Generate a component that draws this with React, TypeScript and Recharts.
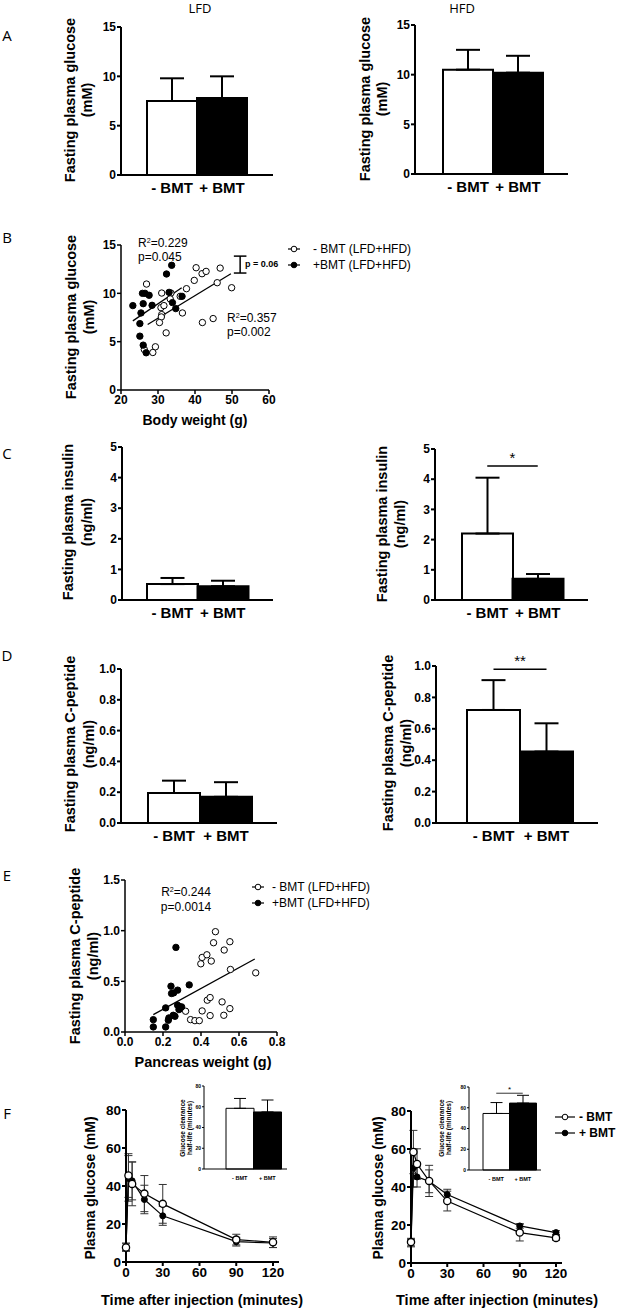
import React from 'react';
import {
  Bar,
  BarChart,
  Cell,
  ErrorBar,
  Line,
  LineChart,
  ReferenceLine,
  Scatter,
  ScatterChart,
  XAxis,
  YAxis,
} from 'recharts';

const sans = '"Liberation Sans", Arial, sans-serif';
const light = '"Open Sans", "Noto Sans", sans-serif';

const groups = ['- BMT', '+ BMT'];

// A: fasting plasma glucose (mM), mean and SD
const glucoseLfd = [7.5, 7.8];
const glucoseLfdSd = [2.3, 2.2];
const glucoseHfd = [10.5, 10.2];
const glucoseHfdSd = [2.0, 1.7];

// C: fasting plasma insulin (ng/ml)
const insulinLfd = [0.52, 0.45];
const insulinLfdSd = [0.2, 0.18];
const insulinHfd = [2.2, 0.7];
const insulinHfdSd = [1.85, 0.16];

// D: fasting plasma C-peptide (ng/ml)
const cpepLfd = [0.195, 0.17];
const cpepLfdSd = [0.08, 0.095];
const cpepHfd = [0.72, 0.455];
const cpepHfdSd = [0.19, 0.18];

// B: body weight (g) vs glucose (mM)
const bwNoBmt: [number, number][] = [
  [26.9, 10.96], [26.3, 4.19], [29.3, 4.47], [28.6, 3.88], [30.8, 8.52], [31.6, 8.73],
  [31.0, 7.8], [30.9, 7.56], [30.4, 6.98], [32.2, 5.91], [31.0, 10.03], [33.5, 10.03],
  [33.3, 9.42], [36.0, 9.69], [37.7, 10.48], [36.6, 7.97], [39.8, 11.34], [40.3, 12.65],
  [41.9, 12.03], [43.0, 12.27], [46.8, 12.61], [46.0, 11.1], [49.9, 10.58], [42.0, 6.98],
  [44.9, 7.39],
];
const bwBmt: [number, number][] = [
  [23.2, 8.73], [25.4, 7.97], [25.8, 10.0], [26.5, 10.0], [26.0, 8.93], [27.6, 9.8],
  [28.4, 8.76], [25.1, 6.87], [25.1, 5.57], [26.0, 4.64], [26.8, 3.85], [32.3, 12.0],
  [33.7, 12.9], [33.0, 10.1], [33.9, 9.04], [36.5, 9.69], [34.8, 8.42],
];
const bwFitNoBmt: [number, number][] = [[27.2, 6.77], [49.7, 12.03]];
const bwFitBmt: [number, number][] = [[23.2, 7.15], [36.4, 10.58]];
const bwBracketX = 52.2;
const bwBracketY = [12.1, 13.85];

// E: pancreas weight (g) vs C-peptide (ng/ml)
const pwNoBmt: [number, number][] = [
  [0.319, 0.205], [0.345, 0.122], [0.368, 0.112], [0.391, 0.112], [0.399, 0.673],
  [0.406, 0.736], [0.431, 0.762], [0.454, 0.7], [0.466, 0.881], [0.476, 0.99],
  [0.406, 0.208], [0.433, 0.314], [0.448, 0.34], [0.448, 0.162], [0.511, 0.297],
  [0.52, 0.165], [0.522, 0.809], [0.552, 0.231], [0.552, 0.891], [0.555, 0.617],
  [0.688, 0.584],
];
const pwBmt: [number, number][] = [
  [0.149, 0.122], [0.149, 0.05], [0.214, 0.05], [0.214, 0.238], [0.228, 0.116],
  [0.231, 0.139], [0.242, 0.452], [0.245, 0.38], [0.256, 0.386], [0.263, 0.155],
  [0.254, 0.165], [0.268, 0.835], [0.277, 0.413], [0.277, 0.264], [0.289, 0.248],
  [0.298, 0.248], [0.284, 0.221], [0.338, 0.465],
];
const pwFit: [number, number][] = [[0.149, 0.172], [0.683, 0.72]];

// F: glucose tolerance curves (mM)
const times = [0, 2, 5, 15, 30, 90, 120];
const gttLfdNoBmt = [7.6, 45.5, 41.1, 36.0, 30.6, 11.8, 10.4];
const gttLfdNoBmtSd = [2, 11.5, 11.5, 9.5, 10.2, 2.8, 2.8];
const gttLfdBmt = [8.0, 44.0, 42.7, 32.9, 24.3, 10.7, 10.0];
const gttLfdBmtSd = [2, 12, 10, 7.5, 5, 2.3, 2.4];
const gttHfdNoBmt = [11.0, 58.4, 52.1, 43.2, 32.6, 16.0, 13.2];
const gttHfdNoBmtSd = [2, 11.4, 8, 8.2, 5.2, 4.4, 1.2];
const gttHfdBmt = [10.5, 50.0, 45.3, 43.0, 36.0, 19.5, 16.0];
const gttHfdBmtSd = [2, 10, 5.3, 6, 2.8, 1.2, 1];

// F insets: glucose clearance half-life (minutes)
const halfLifeLfd = [58.5, 55];
const halfLifeLfdSd = [9.5, 11.5];
const halfLifeHfd = [54.5, 64.5];
const halfLifeHfdSd = [10.5, 7.5];

type Rect = { x0: number; x1: number; top: number; bottom: number };

const toPts = (arr: [number, number][]) => arr.map(([x, y]) => ({ x, y }));

function BarPanel(props: {
  rect: Rect;
  values: number[];
  sds: number[];
  max: number;
  ticks: number[];
  padL: number;
  padR: number;
  small?: boolean;
  sig?: { y: number; label: string };
  fmt?: (v: number) => string;
}) {
  const { rect, values, sds, max, ticks, padL, padR, small, sig, fmt } = props;
  const yW = small ? 14 : 34;
  const xH = small ? 12 : 28;
  const mt = small ? 10 : 24;
  const mr = 4;
  const left = rect.x0 - yW;
  const top = rect.top - mt;
  const width = rect.x1 - left + mr;
  const height = rect.bottom - top + xH;
  const sw = small ? 1 : 2;
  const data = groups.map((g, i) => ({ group: g, value: values[i], err: [0, sds[i]] }));
  return (
    <div style={{ position: 'absolute', left, top }}>
      <BarChart width={width} height={height} data={data} margin={{ top: mt, right: mr, left: 0, bottom: 0 }} barCategoryGap={0} barGap={0}>
        <XAxis
          dataKey="group"
          interval={0}
          padding={{ left: padL, right: padR }}
          height={xH}
          axisLine={{ stroke: '#000', strokeWidth: sw }}
          tickLine={false}
          tickMargin={small ? 1 : 1}
          tick={{ fill: '#000', fontSize: small ? 5.5 : 15, fontWeight: 700, fontFamily: sans }}
        />
        <YAxis
          type="number"
          domain={[0, max]}
          ticks={ticks}
          interval={0}
          width={yW}
          axisLine={{ stroke: '#000', strokeWidth: sw }}
          tickLine={{ stroke: '#000', strokeWidth: sw }}
          tickSize={small ? 2 : 4}
          tickMargin={1}
          tickFormatter={fmt}
          tick={{ fill: '#000', fontSize: small ? 5 : 12, fontWeight: 700, fontFamily: sans }}
        />
        {sig && (
          <ReferenceLine
            segment={[{ x: groups[0], y: sig.y }, { x: groups[1], y: sig.y }]}
            stroke="#000"
            strokeWidth={small ? 0.8 : 1.5}
            label={{ value: sig.label, position: 'top', fill: '#000', fontSize: small ? 8 : 15, fontFamily: sans, offset: small ? 1 : 3 }}
          />
        )}
        <Bar dataKey="value" isAnimationActive={false} stroke="#000" strokeWidth={sw}>
          {data.map((d, i) => (
            <Cell key={d.group} fill={i === 0 ? '#fff' : '#000'} />
          ))}
          <ErrorBar dataKey="err" direction="y" width={small ? 6 : 12} stroke="#000" strokeWidth={sw} />
        </Bar>
      </BarChart>
    </div>
  );
}

const openDot = (p: any) => <circle cx={p.cx} cy={p.cy} r={3.2} fill="#fff" stroke="#000" strokeWidth={1} />;
const filledDot = (p: any) => <circle cx={p.cx} cy={p.cy} r={3.2} fill="#000" stroke="#000" strokeWidth={1} />;
const noDot = () => <g />;

function ScatterPanel(props: {
  rect: Rect;
  xDomain: [number, number];
  xTicks: number[];
  yDomain: [number, number];
  yTicks: number[];
  open: [number, number][];
  filled: [number, number][];
  fits: [number, number][][];
  fmt?: (v: number) => string;
  children?: React.ReactNode;
}) {
  const { rect, xDomain, xTicks, yDomain, yTicks, open, filled, fits, fmt } = props;
  const yW = 34;
  const xH = 22;
  const mt = 10;
  const mr = 14;
  const left = rect.x0 - yW;
  const top = rect.top - mt;
  const width = rect.x1 - left + mr;
  const height = rect.bottom - top + xH;
  const tick = { fill: '#000', fontSize: 12, fontWeight: 700, fontFamily: sans };
  return (
    <div style={{ position: 'absolute', left, top }}>
      <ScatterChart width={width} height={height} margin={{ top: mt, right: mr, left: 0, bottom: 0 }}>
        <XAxis type="number" dataKey="x" domain={xDomain} ticks={xTicks} interval={0} height={xH}
          axisLine={{ stroke: '#000', strokeWidth: 1.5 }} tickLine={{ stroke: '#000', strokeWidth: 1.5 }}
          tickSize={4} tickMargin={1} tickFormatter={fmt} tick={tick} />
        <YAxis type="number" dataKey="y" domain={yDomain} ticks={yTicks} interval={0} width={yW}
          axisLine={{ stroke: '#000', strokeWidth: 1.5 }} tickLine={{ stroke: '#000', strokeWidth: 1.5 }}
          tickSize={4} tickMargin={1} tickFormatter={fmt} tick={tick} />
        {fits.map((f, i) => (
          <Scatter key={i} data={toPts(f)} line={{ stroke: '#000', strokeWidth: 1.3 }} shape={noDot} isAnimationActive={false} />
        ))}
        <Scatter data={toPts(open)} shape={openDot} isAnimationActive={false} />
        <Scatter data={toPts(filled)} shape={filledDot} isAnimationActive={false} />
        {props.children}
      </ScatterChart>
    </div>
  );
}

function CurvePanel(props: { rect: Rect; minus: number[]; minusSd: number[]; plus: number[]; plusSd: number[] }) {
  const { rect, minus, minusSd, plus, plusSd } = props;
  const yW = 36;
  const xH = 24;
  const mt = 10;
  const mr = 12;
  const left = rect.x0 - yW;
  const top = rect.top - mt;
  const width = rect.x1 - left + mr;
  const height = rect.bottom - top + xH;
  const data = times.map((t, i) => ({ t, a: minus[i], aErr: minusSd[i], b: plus[i], bErr: plusSd[i] }));
  const tick = { fill: '#000', fontSize: 13.5, fontWeight: 700, fontFamily: sans };
  return (
    <div style={{ position: 'absolute', left, top }}>
      <LineChart width={width} height={height} data={data} margin={{ top: mt, right: mr, left: 0, bottom: 0 }}>
        <XAxis type="number" dataKey="t" domain={[0, 120]} ticks={[0, 30, 60, 90, 120]} interval={0}
          padding={{ left: 0, right: 6 }} height={xH}
          axisLine={{ stroke: '#000', strokeWidth: 2 }} tickLine={{ stroke: '#000', strokeWidth: 2 }}
          tickSize={4} tickMargin={1} tick={tick} />
        <YAxis type="number" domain={[0, 80]} ticks={[0, 20, 40, 60, 80]} interval={0} width={yW}
          axisLine={{ stroke: '#000', strokeWidth: 2 }} tickLine={{ stroke: '#000', strokeWidth: 2 }}
          tickSize={4} tickMargin={1} tick={tick} />
        <Line dataKey="b" stroke="#000" strokeWidth={1.2} isAnimationActive={false}
          dot={{ r: 3, fill: '#000', stroke: '#000', strokeWidth: 1 }}>
          <ErrorBar dataKey="bErr" direction="y" width={4} stroke="#333" strokeWidth={1} />
        </Line>
        <Line dataKey="a" stroke="#000" strokeWidth={1.2} isAnimationActive={false}
          dot={{ r: 3.6, fill: '#fff', stroke: '#000', strokeWidth: 1.3 }}>
          <ErrorBar dataKey="aErr" direction="y" width={4} stroke="#333" strokeWidth={1} />
        </Line>
      </LineChart>
    </div>
  );
}

function Txt(props: { x: number; y: number; size?: number; bold?: boolean; family?: string; left?: boolean; children: React.ReactNode }) {
  const { x, y, size = 13, bold, family = sans, left } = props;
  return (
    <div style={{
      position: 'absolute', left: x, top: y,
      transform: left ? 'translate(0,-50%)' : 'translate(-50%,-50%)',
      fontSize: size, fontWeight: bold ? 700 : 400, fontFamily: family,
      whiteSpace: 'nowrap', lineHeight: 1, color: '#000',
    }}>
      {props.children}
    </div>
  );
}

function VTxt(props: { x: number; y: number; size?: number; bold?: boolean; children: React.ReactNode }) {
  const { x, y, size = 14.5, bold = true } = props;
  return (
    <div style={{
      position: 'absolute', left: x, top: y,
      transform: 'translate(-50%,-50%) rotate(-90deg)',
      fontSize: size, fontWeight: bold ? 700 : 400, fontFamily: sans,
      whiteSpace: 'nowrap', lineHeight: 1, color: '#000',
    }}>
      {props.children}
    </div>
  );
}

function Sym(props: { x: number; y: number; w: number; filled?: boolean }) {
  const { x, y, w, filled } = props;
  return (
    <svg style={{ position: 'absolute', left: x, top: y - 5 }} width={w} height={10}>
      <line x1={0} y1={5} x2={w} y2={5} stroke="#000" strokeWidth={1.2} />
      <circle cx={w / 2} cy={5} r={2.8} fill={filled ? '#000' : '#fff'} stroke="#000" strokeWidth={1} />
    </svg>
  );
}

const R2 = (props: { v: string }) => (
  <span>R<sup style={{ fontSize: '0.6em', verticalAlign: '0.55em' }}>2</sup>={props.v}</span>
);

export default function App() {
  const f1 = (v: number) => v.toFixed(1);
  return (
    <div style={{ position: 'absolute', left: 0, top: 0, width: 619, height: 1310, background: '#fff', overflow: 'hidden' }}>
      {/* titles and panel letters */}
      <Txt x={200} y={8} size={13} family={light}>LFD</Txt>
      <Txt x={462} y={8} size={13} family={light}>HFD</Txt>
      <Txt x={7} y={35} size={15} family={light}>A</Txt>
      <Txt x={7} y={237} size={15} family={light}>B</Txt>
      <Txt x={7} y={453} size={15} family={light}>C</Txt>
      <Txt x={7} y={655} size={15} family={light}>D</Txt>
      <Txt x={7} y={875} size={15} family={light}>E</Txt>
      <Txt x={7} y={1113} size={15} family={light}>F</Txt>

      {/* A */}
      <BarPanel rect={{ x0: 121, x1: 273, top: 27, bottom: 175 }} values={glucoseLfd} sds={glucoseLfdSd} max={15} ticks={[0, 5, 10, 15]} padL={26} padR={26} />
      <VTxt x={70} y={100}>Fasting plasma glucose</VTxt>
      <VTxt x={87} y={100}>(mM)</VTxt>
      <BarPanel rect={{ x0: 415, x1: 568, top: 25, bottom: 174 }} values={glucoseHfd} sds={glucoseHfdSd} max={15} ticks={[0, 5, 10, 15]} padL={28} padR={25} />
      <VTxt x={365} y={99}>Fasting plasma glucose</VTxt>
      <VTxt x={382} y={99}>(mM)</VTxt>

      {/* B */}
      <ScatterPanel rect={{ x0: 121, x1: 269, top: 245, bottom: 390 }} xDomain={[20, 60]} xTicks={[20, 30, 40, 50, 60]}
        yDomain={[0, 15]} yTicks={[0, 5, 10, 15]} open={bwNoBmt} filled={bwBmt} fits={[bwFitNoBmt, bwFitBmt]}>
        <ReferenceLine segment={[{ x: bwBracketX, y: bwBracketY[0] }, { x: bwBracketX, y: bwBracketY[1] }]} stroke="#000" strokeWidth={1.5} />
        <ReferenceLine segment={[{ x: bwBracketX - 1.7, y: bwBracketY[0] }, { x: bwBracketX + 1.7, y: bwBracketY[0] }]} stroke="#000" strokeWidth={1.5} />
        <ReferenceLine segment={[{ x: bwBracketX - 1.7, y: bwBracketY[1] }, { x: bwBracketX + 1.7, y: bwBracketY[1] }]} stroke="#000" strokeWidth={1.5} />
      </ScatterPanel>
      <VTxt x={71} y={317}>Fasting plasma glucose</VTxt>
      <VTxt x={89} y={317}>(mM)</VTxt>
      <Txt x={195} y={420} bold size={14}>Body weight (g)</Txt>
      <Txt x={138} y={243} size={12} left><R2 v="0.229" /></Txt>
      <Txt x={138} y={257} size={12} left>p=0.045</Txt>
      <Txt x={227} y={318} size={12} left><R2 v="0.357" /></Txt>
      <Txt x={227} y={332} size={12} left>p=0.002</Txt>
      <Txt x={245} y={264} size={9} bold left>p = 0.06</Txt>
      <Sym x={288} y={249} w={12} />
      <Txt x={313} y={249} size={12} left>- BMT (LFD+HFD)</Txt>
      <Sym x={288} y={265} w={12} filled />
      <Txt x={313} y={265} size={12} left>+BMT (LFD+HFD)</Txt>

      {/* C */}
      <BarPanel rect={{ x0: 122, x1: 273, top: 447, bottom: 600 }} values={insulinLfd} sds={insulinLfdSd} max={5} ticks={[0, 1, 2, 3, 4, 5]} padL={25} padR={25} />
      <VTxt x={68} y={522}>Fasting plasma insulin</VTxt>
      <VTxt x={87} y={522}>(ng/ml)</VTxt>
      <BarPanel rect={{ x0: 435, x1: 588, top: 449, bottom: 600 }} values={insulinHfd} sds={insulinHfdSd} max={5} ticks={[0, 1, 2, 3, 4, 5]} padL={27} padR={25} sig={{ y: 4.44, label: '*' }} />
      <VTxt x={382} y={524}>Fasting plasma insulin</VTxt>
      <VTxt x={400} y={524}>(ng/ml)</VTxt>

      {/* D */}
      <BarPanel rect={{ x0: 121, x1: 277, top: 669, bottom: 823 }} values={cpepLfd} sds={cpepLfdSd} max={1} ticks={[0, 0.2, 0.4, 0.6, 0.8, 1]} padL={27} padR={25} fmt={f1} />
      <VTxt x={70} y={744}>Fasting plasma C-peptide</VTxt>
      <VTxt x={89} y={744}>(ng/ml)</VTxt>
      <BarPanel rect={{ x0: 436, x1: 598, top: 666, bottom: 823 }} values={cpepHfd} sds={cpepHfdSd} max={1} ticks={[0, 0.2, 0.4, 0.6, 0.8, 1]} padL={31} padR={25} fmt={f1} sig={{ y: 0.98, label: '**' }} />
      <VTxt x={388} y={743}>Fasting plasma C-peptide</VTxt>
      <VTxt x={406} y={743}>(ng/ml)</VTxt>

      {/* E */}
      <ScatterPanel rect={{ x0: 125, x1: 277, top: 880, bottom: 1032 }} xDomain={[0, 0.8]} xTicks={[0, 0.2, 0.4, 0.6, 0.8]}
        yDomain={[0, 1.5]} yTicks={[0, 0.5, 1, 1.5]} open={pwNoBmt} filled={pwBmt} fits={[pwFit]} fmt={f1} />
      <VTxt x={75} y={956}>Fasting plasma C-peptide</VTxt>
      <VTxt x={93} y={956}>(ng/ml)</VTxt>
      <Txt x={203} y={1062} bold size={14.5}>Pancreas weight (g)</Txt>
      <Txt x={186} y={892} size={12}><R2 v="0.244" /></Txt>
      <Txt x={186} y={907} size={12}>p=0.0014</Txt>
      <Sym x={252} y={887} w={12} />
      <Txt x={272} y={887} size={12} left>- BMT (LFD+HFD)</Txt>
      <Sym x={252} y={903} w={12} filled />
      <Txt x={272} y={903} size={12} left>+BMT (LFD+HFD)</Txt>

      {/* F */}
      <CurvePanel rect={{ x0: 126, x1: 279, top: 1110, bottom: 1262 }} minus={gttLfdNoBmt} minusSd={gttLfdNoBmtSd} plus={gttLfdBmt} plusSd={gttLfdBmtSd} />
      <VTxt x={90} y={1188} size={14}>Plasma glucose (mM)</VTxt>
      <Txt x={202} y={1300} bold size={14.5}>Time after injection (minutes)</Txt>
      <BarPanel rect={{ x0: 204, x1: 287, top: 1086, bottom: 1169 }} values={halfLifeLfd} sds={halfLifeLfdSd} max={80} ticks={[0, 20, 40, 60, 80]} padL={22} padR={6} small />
      <VTxt x={183} y={1128} size={6.5}>Glucose clearance</VTxt>
      <VTxt x={190} y={1128} size={6.5}>half-life (minutes)</VTxt>

      <CurvePanel rect={{ x0: 411, x1: 562, top: 1111, bottom: 1263 }} minus={gttHfdNoBmt} minusSd={gttHfdNoBmtSd} plus={gttHfdBmt} plusSd={gttHfdBmtSd} />
      <VTxt x={378} y={1188} size={14}>Plasma glucose (mM)</VTxt>
      <Txt x={497} y={1300} bold size={14.5}>Time after injection (minutes)</Txt>
      <BarPanel rect={{ x0: 469, x1: 541, top: 1087, bottom: 1170 }} values={halfLifeHfd} sds={halfLifeHfdSd} max={80} ticks={[0, 20, 40, 60, 80]} padL={14} padR={5} small sig={{ y: 74, label: '*' }} />
      <VTxt x={442} y={1128} size={6.5}>Glucose clearance</VTxt>
      <VTxt x={449} y={1128} size={6.5}>half-life (minutes)</VTxt>
      <Sym x={555} y={1117} w={20} />
      <Txt x={579} y={1117} size={12} bold left>- BMT</Txt>
      <Sym x={555} y={1133} w={20} filled />
      <Txt x={579} y={1133} size={12} bold left>+ BMT</Txt>
    </div>
  );
}
